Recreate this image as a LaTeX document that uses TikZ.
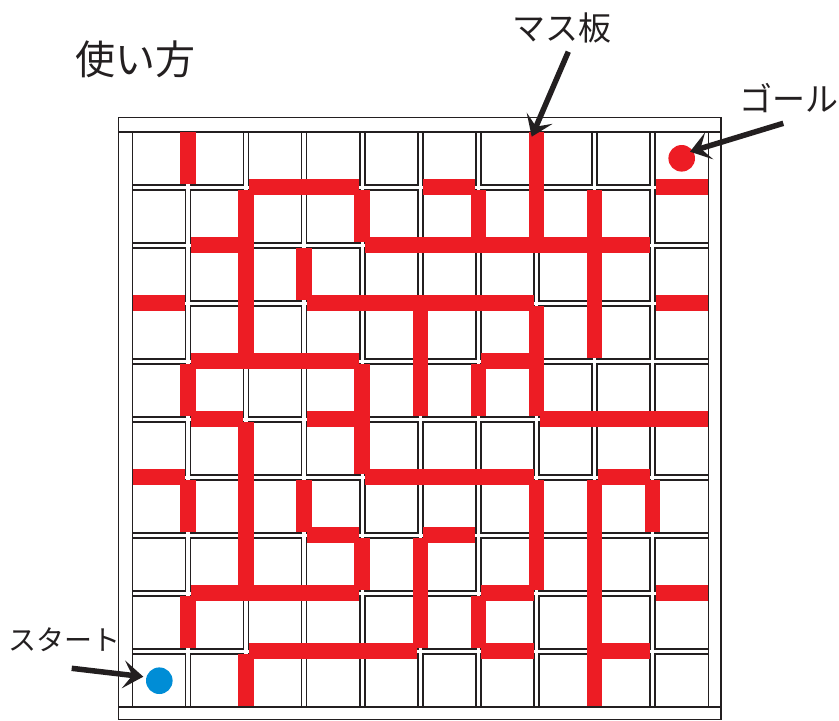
\documentclass[tikz,border=0pt]{standalone}
\usepackage{fontspec}
\newfontfamily\jp{Noto Sans CJK JP}
\usetikzlibrary{arrows.meta}
\definecolor{wallred}{RGB}{237,28,36}
\definecolor{startblue}{RGB}{0,141,214}
\definecolor{ink}{RGB}{35,31,32}
\begin{document}
\begin{tikzpicture}[x=1pt,y=-1pt,
  cellbox/.style={draw=ink, line width=1.6pt},
  framebar/.style={draw=ink, line width=1.6pt},
  wall/.style={draw=wallred, line width=15.5pt, line cap=butt, shorten <=3pt, shorten >=3pt},
  pointer/.style={draw=ink, line width=5.5pt, -{Stealth[length=20pt,width=28pt,inset=9pt]}},
  lbl/.style={font=\jp, inner sep=0pt, text=ink},
  dot/.style={circle, minimum size=26.6pt, inner sep=0pt}]
\useasboundingbox (0,0) rectangle (839,721);
% grid line coordinates
\foreach \k in {0,...,10}{
  \foreach \m in {0,...,10}{
    \coordinate (g-\k-\m) at ({129.8+58.1*\k},{129.2+58*\m});
  }
}
% cells
\foreach \i in {0,...,9}{
  \foreach \j in {0,...,9}{
    \draw[cellbox] ({132.3+58.1*\i},{131.7+58*\j}) rectangle ++(53.1,53);
  }
}
% frame
\draw[framebar] (118.3,117.3) rectangle (720.7,719.5);
\draw[framebar] (118.3,131.7) -- (720.7,131.7);
\draw[framebar] (118.3,706.7) -- (720.7,706.7);
\draw[framebar] (132.3,131.7) -- (132.3,706.7);
\draw[framebar] (708.3,131.7) -- (708.3,706.7);
% vertical walls: k / from m / to m
\foreach \k/\a/\b in {1/0/1, 2/1/4, 4/1/2, 3/2/3, 6/1/2, 7/0/2, 8/1/4, 5/3/5, 7/3/5,
  6/4/5, 1/4/5, 4/4/6, 2/5/8, 1/6/7, 3/6/7, 4/7/8, 7/6/8, 5/7/9, 8/6/10, 9/6/7,
  6/8/9, 1/8/9, 2/9/10}{
  \draw[wall] (g-\k-\a) -- (g-\k-\b);
}
% horizontal walls: m / from k / to k
\foreach \m/\a/\b in {1/2/4, 1/5/6, 1/9/10, 2/1/2, 2/4/9, 3/0/1, 3/3/7, 3/9/10,
  4/1/4, 4/6/7, 5/1/2, 5/3/4, 5/7/10, 6/0/1, 6/4/7, 6/8/9, 7/3/4, 7/5/6,
  8/1/4, 8/6/7, 8/9/10, 9/2/5, 9/6/7, 9/8/9}{
  \draw[wall] (g-\a-\m) -- (g-\b-\m);
}
% goal and start markers
\node[dot, fill=wallred] (goal) at (681.7,158.3) {};
\node[dot, fill=startblue] (start) at (159.3,680.7) {};
% labels
\node[lbl, font=\jp\fontsize{40}{40}\selectfont] (title) at (135.5,59) {使い方};
\node[lbl, font=\jp\fontsize{33}{33}\selectfont] (board) at (561.5,27.5) {マス板};
\node[lbl, font=\jp\fontsize{33}{33}\selectfont] (goallbl) at (788.5,98.5) {ゴール};
\node[lbl, font=\jp\fontsize{28}{28}\selectfont] (startlbl) at (64.5,640) {スタート};
% arrow ends
\coordinate (boardtail) at (568.3,51.7);
\coordinate (boardtip) at (531.7,136.7);
\coordinate (goaltail) at (783.3,123.3);
\coordinate (goaltip) at (690,151.7);
\coordinate (starttail) at (71.7,668.3);
\coordinate (starttip) at (143.3,676.7);
\draw[pointer] (boardtail) -- (boardtip);
\draw[pointer] (goaltail) -- (goaltip);
\draw[pointer] (starttail) -- (starttip);
\end{tikzpicture}
\end{document}
